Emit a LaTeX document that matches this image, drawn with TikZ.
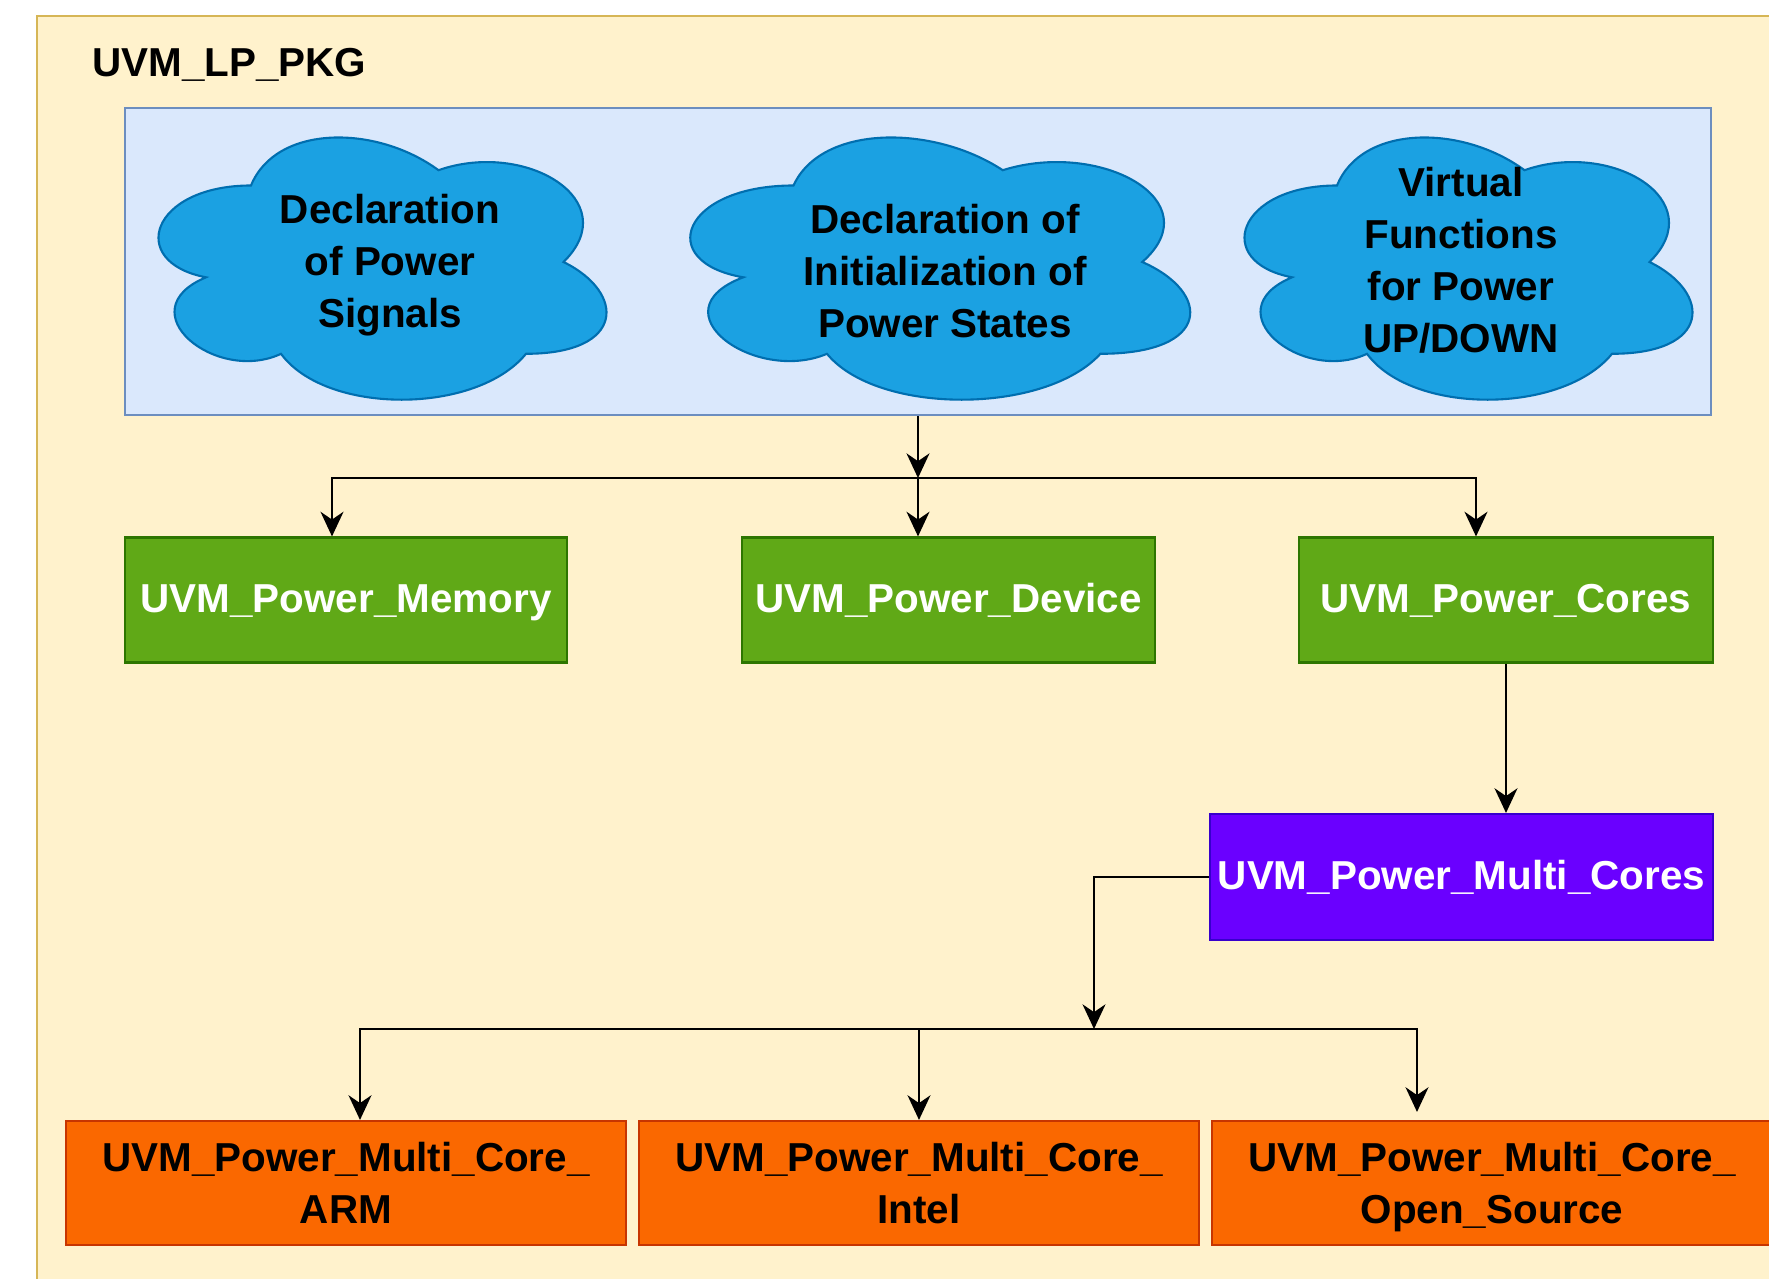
\documentclass[tikz,border=0pt]{standalone}
\usepackage{fontspec}
\setmainfont{Liberation Sans}
\usetikzlibrary{calc, arrows.meta}

\definecolor{pkgfill}{HTML}{FFF2CC}
\definecolor{pkgline}{HTML}{D6B656}
\definecolor{bluefill}{HTML}{DAE8FC}
\definecolor{blueline}{HTML}{6C8EBF}
\definecolor{cloudfill}{HTML}{1BA1E2}
\definecolor{cloudline}{HTML}{006EAF}
\definecolor{greenfill}{HTML}{60A917}
\definecolor{greenline}{HTML}{2D7600}
\definecolor{purplefill}{HTML}{6A00FF}
\definecolor{purpleline}{HTML}{3700CC}
\definecolor{orangefill}{HTML}{FA6800}
\definecolor{orangeline}{HTML}{C73500}

\begin{document}
\begin{tikzpicture}[>={Stealth[length=7pt, width=6.5pt, inset=2.2pt]},
    font=\fontsize{11.5}{14.8}\selectfont\bfseries]
    \tikzstyle{greenbox} = [rectangle, draw=greenline, fill=greenfill, text=white, minimum height=1.25cm, inner sep=0pt, line width=.6pt, text height=.9em, text depth=.2em]
    \tikzstyle{purplebox} = [rectangle, draw=purpleline, fill=purplefill, text=white, minimum height=1.26cm, inner sep=0pt, line width=.6pt, text height=.9em, text depth=.2em]
    \tikzstyle{orangebox} = [rectangle, draw=orangeline, fill=orangefill, text=black, minimum width=5.6cm, minimum height=1.24cm, inner sep=0pt, line width=.6pt, align=center, text depth=0pt]
    \tikzstyle{cloudtext} = [align=center, inner sep=0pt]
    \tikzstyle{link} = [line width=.8pt, black]

    \useasboundingbox (0, 0) rectangle (17.69, -12.79);
    \clip (0, 0) rectangle (17.69, -12.79);

    % Package frame -------------------------------------
    \draw[pkgline, fill=pkgfill, line width=.8pt] (.37, -.16) rectangle (18.2, -13.3);
    \node (pkg) at (.80, -.77) [anchor=base west] {UVM\_LP\_PKG};

    % Declarations --------------------------------------
    \node (decl) at (9.18, -2.615) [rectangle, draw=blueline, fill=bluefill, line width=.6pt,
        minimum width=15.86cm, minimum height=3.07cm] {};

    \foreach \cx/\cw in {3.76/5.0, 9.33/5.58, 14.62/5.0} {
        \begin{scope}[shift={(\cx, -2.62)}, xscale=\cw, yscale=3.06]
            \draw[cloudline, fill=cloudfill, line width=.6pt] (-.25, .25)
                .. controls (-.45, .25) and (-.5, 0) .. (-.34, -.05)
                .. controls (-.5, -.16) and (-.32, -.4) .. (-.19, -.3)
                .. controls (-.1, -.5) and (.2, -.5) .. (.3, -.3)
                .. controls (.5, -.3) and (.5, -.1) .. (.375, 0)
                .. controls (.5, .2) and (.3, .4) .. (.125, .3)
                .. controls (0, .45) and (-.2, .45) .. (-.25, .25) -- cycle;
        \end{scope}
    }

    \node (signals) at (3.90, -2.65) [cloudtext] {Declaration\\of Power\\Signals};
    \node (states) at (9.45, -2.71) [cloudtext] {Declaration of\\Initialization of\\Power States};
    \node (updown) at (14.61, -2.60) [cloudtext] {Virtual\\Functions\\for Power\\UP/DOWN};

    % Power classes --------------------------------------
    \node (memory) at (3.46, -6.00) [greenbox, minimum width=4.42cm] {UVM\_Power\_Memory};
    \node (device) at (9.485, -6.00) [greenbox, minimum width=4.13cm] {UVM\_Power\_Device};
    \node (cores) at (15.06, -6.00) [greenbox, minimum width=4.14cm] {UVM\_Power\_Cores};

    \node (multi) at (14.615, -8.77) [purplebox, minimum width=5.03cm] {UVM\_Power\_Multi\_Cores};

    \node (arm) at (3.46, -11.83) [orangebox] {UVM\_Power\_Multi\_Core\_\\ARM};
    \node (intel) at (9.19, -11.83) [orangebox] {UVM\_Power\_Multi\_Core\_\\Intel};
    \node (opensrc) at (14.92, -11.83) [orangebox] {UVM\_Power\_Multi\_Core\_\\Open\_Source};

    % Links -----------------------------------------------
    \coordinate (split_top) at ($(decl.south) + (0, -.62)$);
    \coordinate (split_low) at (10.94, -10.29);

    \draw[link, ->] (decl.south) -- (split_top);
    \draw[link, ->] (split_top) -| ($(memory.north) + (-.14, 0)$);
    \draw[link, ->] (split_top) -- (split_top |- device.north);
    \draw[link, ->] (split_top) -| ($(cores.north) + (-.30, 0)$);

    \draw[link, ->] (cores.south) -- (cores.south |- multi.north);

    \draw[link, ->] (multi.west) -| (split_low);
    \draw[link, ->] (split_low) -| ($(arm.north) + (.14, 0)$);
    \draw[link, ->] (split_low) -| (intel.north);
    \draw[link, ->] (split_low) -| ($(opensrc.north) + (-.75, .08)$);
\end{tikzpicture}
\end{document}
